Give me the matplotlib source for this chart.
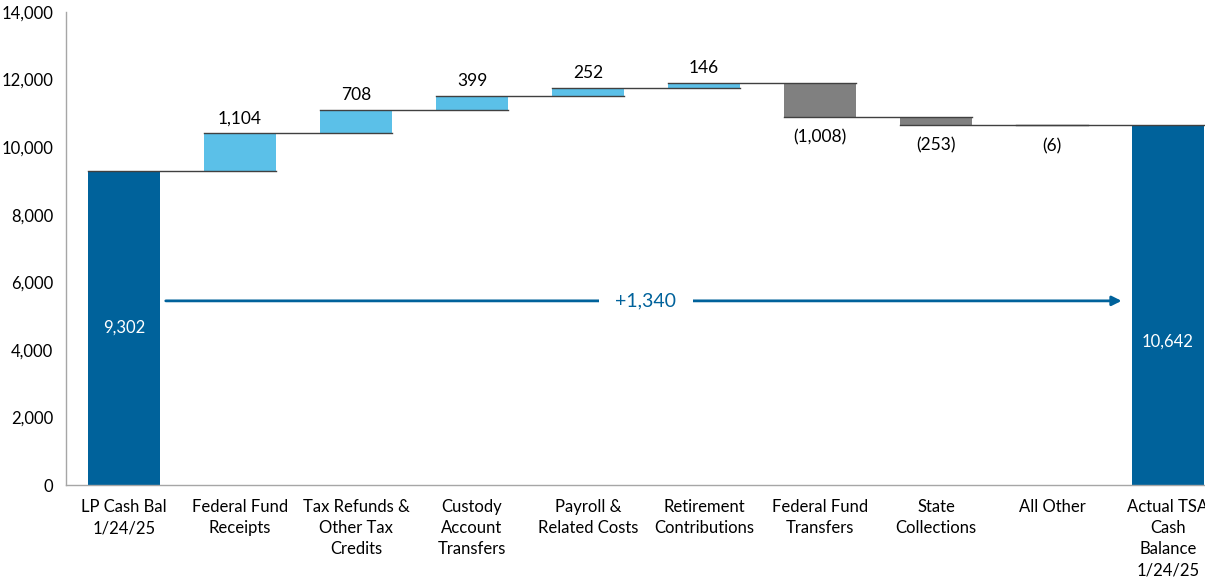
import numpy as np
import matplotlib.pyplot as plt

categories = ['LP Cash Bal\n1/24/25', 'Federal Fund\nReceipts', 'Tax Refunds &\nOther Tax\nCredits',
              'Custody\nAccount\nTransfers', 'Payroll &\nRelated Costs', 'Retirement\nContributions',
              'Federal Fund\nTransfers', 'State\nCollections', 'All Other',
              'Actual TSA\nCash\nBalance\n1/24/25']
start_bal = 9302
changes = [1104, 708, 399, 252, 146, -1008, -253, -6]
end_bal = 10642
net_change = '+1,340'

dark = '#00629B'
light = '#5BC0E8'
grey = '#808080'

plt.rcParams['font.family'] = ['Lato', 'DejaVu Sans']

fig = plt.figure(figsize=(12.05, 5.82), dpi=100)
ax = fig.add_axes([66/1205, 97/582, 1160/1205, 473/582])

x = np.arange(len(categories))
w = 0.62

# running totals
cum = np.cumsum([start_bal] + changes)
bottoms = []
heights = []
cols = []
bottoms.append(0); heights.append(start_bal); cols.append(dark)
for i, c in enumerate(changes):
    prev = cum[i]
    if c >= 0:
        bottoms.append(prev); heights.append(c); cols.append(light)
    else:
        bottoms.append(prev + c); heights.append(-c); cols.append(grey)
bottoms.append(0); heights.append(end_bal); cols.append(dark)

ax.bar(x, heights, bottom=bottoms, width=w, color=cols, edgecolor='none', zorder=2)

# connectors
for i in range(len(categories) - 1):
    level = cum[i] if i < len(cum) else end_bal
    ax.plot([x[i] - w/2, x[i+1] + w/2], [level, level], color='#404040', lw=1.0, zorder=3)

# labels
ax.text(x[0], start_bal/2, f'{start_bal:,}', color='white', ha='center', va='center', fontsize=12)
ax.text(x[-1], 4230, f'{end_bal:,}', color='white', ha='center', va='center', fontsize=12)
for i, c in enumerate(changes):
    xi = x[i+1]
    if c >= 0:
        ax.annotate(f'{c:,}', (xi, cum[i+1]), xytext=(0, 5), textcoords='offset points',
                    ha='center', va='bottom', fontsize=12.5)
    else:
        ax.annotate(f'({-c:,})', (xi, cum[i+1]), xytext=(0, -9), textcoords='offset points',
                    ha='center', va='top', fontsize=12.5)

# net change arrow
arrow_y = 5450
ax.annotate('', xy=(x[-1] - 0.4, arrow_y), xytext=(x[0] + 0.36, arrow_y),
            arrowprops=dict(arrowstyle='-|>', color=dark, lw=2, mutation_scale=14, shrinkA=0, shrinkB=0))
ax.text(4.5, arrow_y, net_change, color=dark, ha='center', va='center', fontsize=14,
        bbox=dict(facecolor='white', edgecolor='none', pad=12), zorder=4)

ax.set_xlim(-0.5, len(categories) - 0.5)
ax.set_ylim(0, 14000)
ax.set_yticks(np.arange(0, 14001, 2000))
ax.set_yticklabels([f'{v:,}' for v in range(0, 14001, 2000)], fontsize=12)
ax.set_xticks(x)
ax.set_xticklabels(categories, fontsize=12, linespacing=1.4, va='top')
ax.tick_params(axis='both', length=0)
ax.tick_params(axis='y', pad=9)
ax.tick_params(axis='x', pad=10)
for s in ['top', 'right']:
    ax.spines[s].set_visible(False)
for s in ['left', 'bottom']:
    ax.spines[s].set_color('#A6A6A6')
    ax.spines[s].set_linewidth(1)

fig.savefig('out.png', dpi=100)
